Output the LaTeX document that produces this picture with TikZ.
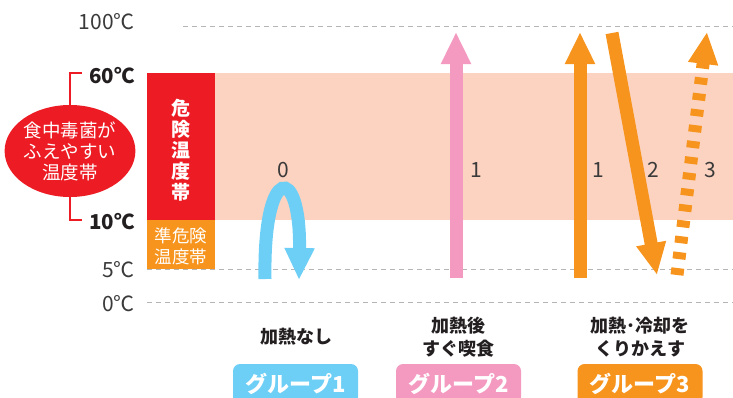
\documentclass[tikz,border=0pt]{standalone}
\usepackage{fontspec}
\setmainfont{Noto Sans CJK JP}
\usetikzlibrary{arrows.meta,shapes.geometric}
\definecolor{dred}{HTML}{ED1C24}
\definecolor{band}{HTML}{FCD3C1}
\definecolor{dorange}{HTML}{F7941D}
\definecolor{lblue}{HTML}{6DCFF6}
\definecolor{lpink}{HTML}{F49AC1}
\definecolor{guidegray}{HTML}{B5B5B5}
\definecolor{txt}{HTML}{231F20}
\definecolor{tgray}{HTML}{3A3A3A}
\tikzset{
  templbl/.style={anchor=east, text=tgray, inner sep=0, font=\fontsize{21}{23}\selectfont},
  tempbold/.style={anchor=east, text=txt, inner sep=0, font=\fontsize{20.5}{23}\selectfont\bfseries},
  guide/.style={draw=guidegray, line width=1pt, dash pattern=on 5pt off 4pt},
  numlbl/.style={text=tgray, inner sep=0, font=\fontsize{21}{23}\selectfont},
  bigarrow/.style={line width=13pt, -{Triangle[length=32pt,width=28pt]}},
  caption/.style={text=txt, inner sep=0, align=center, font=\fontsize{18}{23}\selectfont\bfseries},
  groupbtn/.style={rounded corners=7pt, minimum width=125pt, minimum height=40pt, text=white, inner sep=0, font=\fontsize{22}{24}\selectfont\bfseries},
}
\begin{document}
\begin{tikzpicture}[x=1pt,y=-1pt]
\useasboundingbox (0,0) rectangle (733,397);
% bands
\fill[band] (215,73) rectangle (733,220);
\fill[dred] (147,73) rectangle (215,220);
\fill[dorange] (147,220) rectangle (215,269);
\node[text=white, inner sep=0, align=center, font=\fontsize{19}{21}\selectfont\bfseries] (danger) at (181,150) {危\\険\\温\\度\\帯};
\node[text=white, inner sep=0, align=center, font=\fontsize{17.5}{21}\selectfont] (semi) at (181,246) {準危険\\温度帯};
% guide lines
\coordinate (g100a) at (183,26); \coordinate (g100b) at (733,26);
\coordinate (g5a) at (147,269); \coordinate (g5b) at (733,269);
\coordinate (g0a) at (147,302); \coordinate (g0b) at (733,302);
\draw[guide] (g100a) -- (g100b);
\draw[guide] (g5a) -- (g5b);
\draw[guide] (g0a) -- (g0b);
% temperature labels
\node[templbl] (t100) at (135,22) {100℃};
\node[tempbold] (t60) at (135,76) {60℃};
\node[tempbold] (t10) at (135,222) {10℃};
\node[templbl] (t5) at (135,270) {5℃};
\node[templbl] (t0) at (135,304) {0℃};
% ellipse and bracket
\node[ellipse, fill=dred, minimum width=126pt, minimum height=92pt, inner sep=0, text=white, align=center, font=\fontsize{18.5}{21}\selectfont] (ell) at (70,151) {食中毒菌が\\ふえやすい\\温度帯};
\coordinate (b60) at (82,73);
\coordinate (b10) at (82,220);
\draw[dred, line width=1.5pt] (ell.north) |- (b60);
\draw[dred, line width=1.5pt] (ell.south) |- (b10);
% group 1 arrow
\coordinate (a0s) at (265,279);
\coordinate (a0e) at (299,280);
\draw[lblue, bigarrow] (a0s) .. controls (263,163) and (301,163) .. (a0e);
\node[numlbl] (n0) at (283,170) {0};
% group 2 arrow
\coordinate (a2s) at (456,278);
\coordinate (a2e) at (456,32);
\draw[lpink, bigarrow] (a2s) -- (a2e);
\node[numlbl] (n21) at (476,170) {1};
% group 3 arrows
\coordinate (a31s) at (580,278);
\coordinate (a31e) at (580,32);
\draw[dorange, bigarrow] (a31s) -- (a31e);
\node[numlbl] (n31) at (598,170) {1};
\coordinate (a32s) at (612,33);
\coordinate (a32e) at (657,275);
\draw[dorange, bigarrow] (a32s) -- (a32e);
\node[numlbl] (n32) at (653,170) {2};
\coordinate (a33s) at (677,275);
\coordinate (a33e) at (707,32);
\draw[dorange, bigarrow, dash pattern=on 7pt off 9pt] (a33s) -- (a33e);
\node[numlbl] (n33) at (710,170) {3};
% captions
\node[caption] (c1) at (296,337) {加熱なし};
\node[caption] (c2) at (458,337) {加熱後\\すぐ喫食};
\node[caption] (c3) at (640,337) {加熱･冷却を\\くりかえす};
% group buttons
\node[groupbtn, fill=lblue] (gb1) at (295.5,384) {グループ1};
\node[groupbtn, fill=lpink] (gb2) at (458.5,384) {グループ2};
\node[groupbtn, fill=dorange] (gb3) at (640,384) {グループ3};
\end{tikzpicture}
\end{document}
